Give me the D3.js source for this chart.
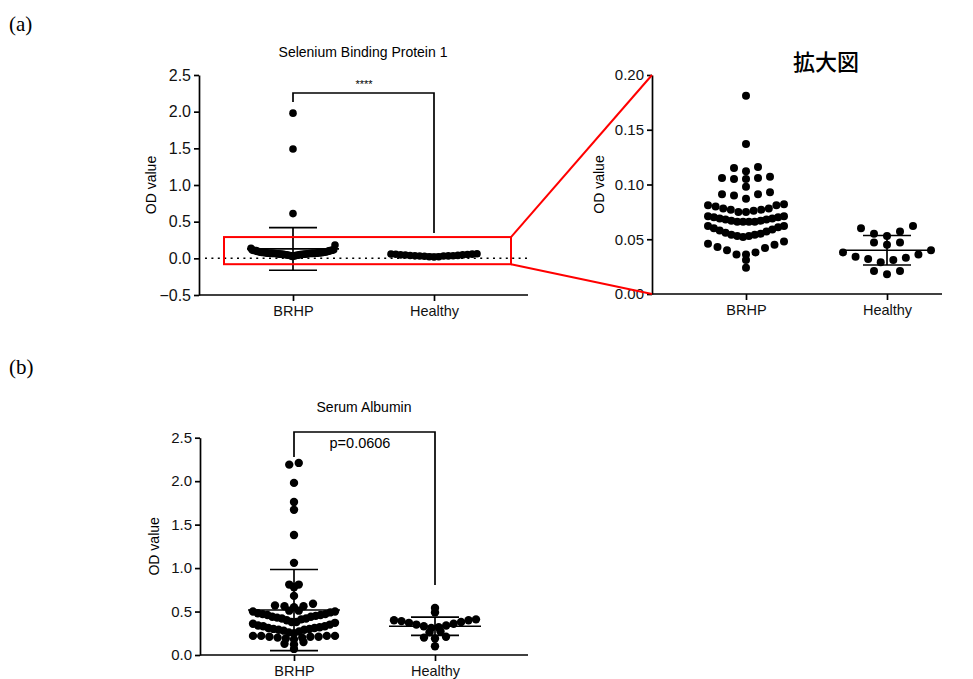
<!DOCTYPE html>
<html>
<head>
<meta charset="utf-8">
<script src="https://cdn.jsdelivr.net/npm/d3@7"></script>
<style>
  body { margin: 0; background: #fff; }
  svg { display: block; font-family: "Liberation Sans", Arial, sans-serif; }
  .axis path, .axis line { stroke: #000; stroke-width: 1.7; }
  .axis text { fill: #111; }
</style>
</head>
<body>
<svg width="973" height="679"></svg>
<script>
var groups = ["BRHP", "Healthy"];

// Selenium Binding Protein 1, OD values
var sbpBRHP = [1.98, 1.49, 0.61,
  0.181, 0.137, 0.115, 0.116, 0.112,
  0.107, 0.106, 0.105, 0.105, 0.106, 0.098,
  0.087, 0.093, 0.091, 0.090, 0.091,
  0.081, 0.080, 0.078, 0.077, 0.077, 0.078, 0.081, 0.082,
  0.076, 0.075, 0.075,
  0.071, 0.070, 0.069, 0.068, 0.067, 0.066, 0.066, 0.066, 0.066, 0.067, 0.068, 0.069, 0.070, 0.071,
  0.062, 0.061, 0.059, 0.057, 0.055, 0.054, 0.053, 0.052, 0.053, 0.054, 0.056, 0.058, 0.060, 0.062,
  0.046, 0.043, 0.040, 0.036, 0.036, 0.038, 0.042, 0.045, 0.048,
  0.031, 0.024];
var sbpHealthy = [0.062, 0.060, 0.057, 0.055, 0.053, 0.047, 0.047, 0.045, 0.040, 0.038,
  0.036, 0.034, 0.033, 0.032, 0.031, 0.029, 0.021, 0.021, 0.018];

// Serum Albumin
var albBRHP = [2.21, 2.19, 1.98, 1.76, 1.67, 1.38, 1.06,
  0.81, 0.81, 0.78, 0.68, 0.59, 0.57, 0.56, 0.56, 0.55,
  0.51, 0.51, 0.50, 0.50, 0.49, 0.48, 0.47, 0.47, 0.46, 0.46, 0.45, 0.44, 0.44, 0.43, 0.42, 0.42, 0.41, 0.40,
  0.38, 0.38, 0.37, 0.36, 0.35, 0.34, 0.33, 0.33, 0.32, 0.31, 0.31, 0.30, 0.30, 0.29, 0.29, 0.28, 0.27, 0.26, 0.25,
  0.22, 0.22, 0.22, 0.22, 0.21, 0.21, 0.21, 0.20, 0.20, 0.19, 0.18,
  0.15, 0.13, 0.12, 0.07];
var albHealthy = [0.54, 0.49,
  0.41, 0.40, 0.40, 0.39, 0.38, 0.37, 0.36, 0.35, 0.34, 0.33, 0.32, 0.31,
  0.27, 0.26, 0.21, 0.20, 0.19, 0.10];

var ticksA = [-0.5, 0.0, 0.5, 1.0, 1.5, 2.0, 2.5];
var ticksZoom = [0.00, 0.05, 0.10, 0.15, 0.20];
var ticksB = [0.0, 0.5, 1.0, 1.5, 2.0, 2.5];

var svg = d3.select("svg");

// scatter layout like the original software: sorted values go into rows,
// lowest value in the middle of a row, higher ones towards the ends
function rows(values, y, p) {
  var pts = values.map(function(v) { return {v: v, y: y(v), x: 0}; })
    .sort(function(a, b) { return a.v - b.v; });
  var out = [], row = [];
  function flush() {
    var n = row.length;
    var s = n > 1 ? Math.min(p.sp, 2 * p.half / (n - 1)) : 0;
    var offs = d3.range(n).map(function(k) { return (k - (n - 1) / 2) * s; })
      .sort(function(a, b) { return (Math.abs(a) - Math.abs(b)) || (a - b); });
    row.forEach(function(q, k) { q.x = offs[k]; out.push(q); });
    row = [];
  }
  pts.forEach(function(q) {
    if (row.length && (row[0].y - q.y > p.rowH || row[row.length - 1].y - q.y > p.gap)) flush();
    row.push(q);
  });
  flush();
  return out;
}

function panel(o) {
  var g = svg.append("g").attr("transform", "translate(" + o.left + ",0)");
  var y = d3.scaleLinear().domain(o.domain).range([o.bottom, o.top]);
  var x = d3.scalePoint().domain(groups).range([94, 235]);

  if (o.zeroLine) {
    g.append("line")
      .attr("x1", 6).attr("x2", o.width).attr("y1", y(0)).attr("y2", y(0))
      .attr("stroke", "#000").attr("stroke-width", 1.5).attr("stroke-dasharray", "2,4.4");
  }

  // points
  o.series.forEach(function(vals, i) {
    var s = rows(vals, y, o.layout[i]);
    g.selectAll(".p" + i).data(s).enter().append("circle")
      .attr("cx", function(d) { return x(groups[i]) + d.x; })
      .attr("cy", function(d) { return d.y; })
      .attr("r", o.r)
      .attr("fill", "#000");
  });

  // mean and SD bars
  o.series.forEach(function(vals, i) {
    if (o.noBars && o.noBars[i]) return;
    var m = d3.mean(vals), sd = d3.deviation(vals);
    var cx = x(groups[i]);
    var bar = g.append("g").attr("stroke", "#000").attr("stroke-width", 1.7);
    bar.append("line").attr("x1", cx - 46).attr("x2", cx + 46).attr("y1", y(m)).attr("y2", y(m));
    bar.append("line").attr("x1", cx).attr("x2", cx).attr("y1", y(m - sd)).attr("y2", y(m + sd));
    [m - sd, m + sd].forEach(function(v) {
      bar.append("line").attr("x1", cx - 24).attr("x2", cx + 24).attr("y1", y(v)).attr("y2", y(v));
    });
  });

  var ya = g.append("g").attr("class", "axis")
    .call(d3.axisLeft(y).tickValues(o.ticks).tickFormat(d3.format(o.fmt)).tickSize(5).tickSizeOuter(0));
  ya.selectAll("text").style("font-size", o.tickFont + "px");

  var xa = g.append("g").attr("class", "axis").attr("transform", "translate(0," + o.bottom + ")")
    .call(d3.axisBottom(x).tickSize(6).tickPadding(5));
  xa.select(".domain").remove();
  xa.selectAll("text").style("font-size", "14.5px");
  xa.append("line").attr("x1", 0).attr("x2", o.width).attr("y1", 0).attr("y2", 0);

  g.append("text")
    .attr("transform", "translate(" + o.labelX + "," + ((o.top + o.bottom) / 2) + ") rotate(-90)")
    .attr("text-anchor", "middle").attr("dy", "0.35em")
    .style("font-size", "14px").text("OD value");

  if (o.title) {
    g.append("text").attr("x", 164).attr("y", o.titleY).attr("text-anchor", "middle")
      .style("font-size", "14px").text(o.title);
  }

  if (o.bracket) {
    var b = o.bracket;
    g.append("path")
      .attr("d", "M" + x(groups[0]) + "," + b.leftEnd + "V" + b.top + "H" + x(groups[1]) + "V" + b.rightEnd)
      .attr("fill", "none").attr("stroke", "#000").attr("stroke-width", 1.7);
    g.append("text").attr("x", b.textX).attr("y", b.textY).attr("text-anchor", "middle")
      .style("font-size", b.size + "px").text(b.text);
  }
  return {g: g, x: x, y: y};
}

var pa = panel({
  left: 199, top: 75, bottom: 295, width: 329, domain: [-0.5, 2.5],
  ticks: ticksA, fmt: ".1f", tickFont: 16, r: 3.8, zeroLine: true,
  layout: [{rowH: 14, gap: 14, sp: 8, half: 42}, {rowH: 14, gap: 14, sp: 8, half: 43}],
  series: [sbpBRHP, sbpHealthy], labelX: -48,
  title: "Selenium Binding Protein 1", titleY: 57,
  bracket: {top: 93, leftEnd: 102, rightEnd: 233, text: "****", textX: 165, textY: 88, size: 11}
});

var pz = panel({
  left: 652, top: 75, bottom: 294, width: 290, domain: [0, 0.2],
  ticks: ticksZoom, fmt: ".2f", tickFont: 15, r: 4,
  layout: [{rowH: 14, gap: 3.4, sp: 12, half: 38}, {rowH: 14, gap: 3.4, sp: 13, half: 44}],
  series: [sbpBRHP.filter(function(v) { return v <= 0.2; }), sbpHealthy],
  noBars: [true, false], labelX: -53
});

var pb = panel({
  left: 200, top: 437.7, bottom: 655, width: 328, domain: [0, 2.5],
  ticks: ticksB, fmt: ".1f", tickFont: 15, r: 4.2,
  layout: [{rowH: 10.5, gap: 2.2, sp: 9.5, half: 41}, {rowH: 10.5, gap: 2.2, sp: 11, half: 41}],
  series: [albBRHP, albHealthy], labelX: -46,
  title: "Serum Albumin", titleY: 412,
  bracket: {top: 432, leftEnd: 457, rightEnd: 585, text: "p=0.0606", textX: 160, textY: 448, size: 14.5}
});

// red zoom box and connector lines
var boxTop = 0.29, boxBottom = -0.08;
var bx0 = 224, bx1 = 511;
svg.append("rect")
  .attr("x", bx0).attr("y", pa.y(boxTop))
  .attr("width", bx1 - bx0).attr("height", pa.y(boxBottom) - pa.y(boxTop))
  .attr("fill", "none").attr("stroke", "#f00").attr("stroke-width", 2);
svg.append("line")
  .attr("x1", bx1).attr("y1", pa.y(boxTop)).attr("x2", 652).attr("y2", pz.y(0.2))
  .attr("stroke", "#f00").attr("stroke-width", 2);
svg.append("line")
  .attr("x1", bx1).attr("y1", pa.y(boxBottom)).attr("x2", 652).attr("y2", pz.y(0))
  .attr("stroke", "#f00").attr("stroke-width", 2);

svg.append("text").attr("x", 826).attr("y", 70).attr("text-anchor", "middle")
  .style("font-family", "'Noto Sans CJK JP', sans-serif").style("font-size", "22px")
  .style("font-weight", "500").text("拡大図");

svg.append("text").attr("x", 9).attr("y", 31)
  .style("font-family", "'Liberation Serif', serif").style("font-size", "21px").text("(a)");
svg.append("text").attr("x", 9).attr("y", 374)
  .style("font-family", "'Liberation Serif', serif").style("font-size", "21px").text("(b)");
</script>
</body>
</html>
